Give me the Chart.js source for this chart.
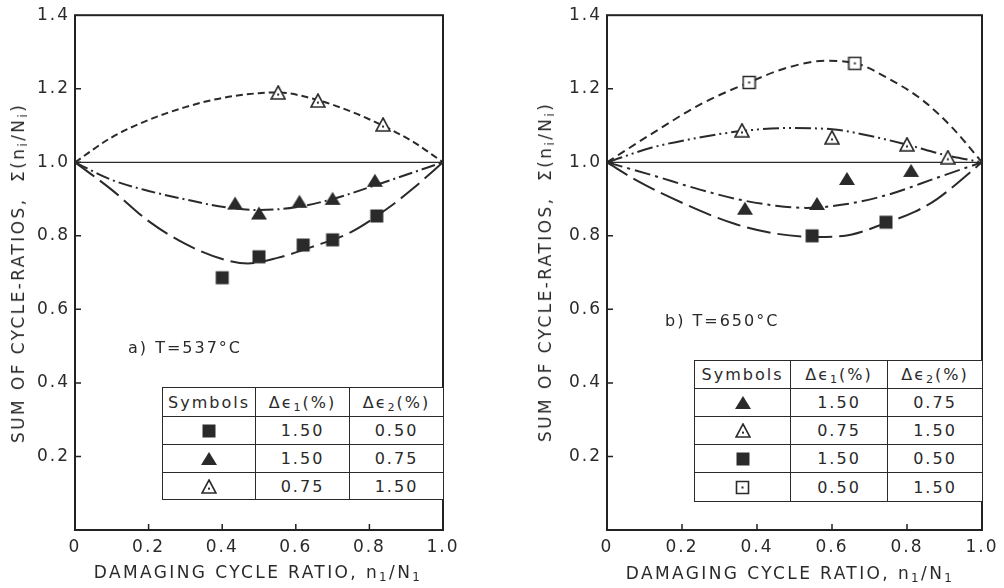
<!DOCTYPE html>
<html>
<head>
<meta charset="utf-8">
<script src="https://cdn.jsdelivr.net/npm/chart.js@4.4.1/dist/chart.umd.min.js"></script>
<style>
  body { margin: 0; background: #fff; }
  #wrap { position: relative; width: 1004px; height: 588px; overflow: hidden;
          font-family: "DejaVu Sans", sans-serif; color: #2a2a2a; }
  canvas.plot { position: absolute; top: 0; }
  .xt { position: absolute; font-size: 17px; letter-spacing: 2.4px; white-space: nowrap;
        transform: translate(-50%, -50%); }
  .yt { position: absolute; font-size: 17px; letter-spacing: 2.4px; white-space: nowrap;
        transform: translate(-50%, -50%) rotate(-90deg); }
  .note { position: absolute; font-size: 16px; letter-spacing: 2px; white-space: nowrap;
          transform: translateY(-50%); }
  table.key { position: absolute; border-collapse: collapse; table-layout: fixed;
              font-size: 16px; letter-spacing: 2px; background: #fff; }
  table.key td { border: 1.5px solid #2a2a2a; text-align: center; padding: 0; }
  table.key canvas { display: block; margin: 0 auto; }
  sub { font-size: 70%; vertical-align: -0.25em; line-height: 0; }
</style>
</head>
<body>
<div id="wrap">
  <canvas id="cA" class="plot" width="470" height="588" style="left:0px"></canvas>
  <canvas id="cB" class="plot" width="484" height="588" style="left:520px"></canvas>

  <div class="yt" style="left:18px; top:273px">SUM OF CYCLE-RATIOS,&nbsp;&nbsp;Σ(n<sub>i</sub>/N<sub>i</sub>)</div>
  <div class="xt" style="left:258px; top:572px">DAMAGING CYCLE RATIO, n<sub>1</sub>/N<sub>1</sub></div>
  <div class="note" style="left:128px; top:347px">a) T=537°C</div>

  <div class="yt" style="left:545px; top:272px">SUM OF CYCLE-RATIOS,&nbsp;&nbsp;Σ(n<sub>i</sub>/N<sub>i</sub>)</div>
  <div class="xt" style="left:790px; top:573px">DAMAGING CYCLE RATIO, n<sub>1</sub>/N<sub>1</sub></div>
  <div class="note" style="left:665px; top:320px">b) T=650°C</div>
</div>

<script>
// tick labels
const xTickLabels = ['0', '0.2', '0.4', '0.6', '0.8', '1.0'];
const yTickLabels = ['', '0.2', '0.4', '0.6', '0.8', '1.0', '1.2', '1.4'];

// Miner line, sum = 1
const minerX = [0, 1];
const minerY = [1, 1];

// ---- a) T = 537 C ----
// filled squares (1.50 / 0.50)
const aSqX = [0.40, 0.50, 0.62, 0.70, 0.82];
const aSqY = [0.686, 0.743, 0.775, 0.789, 0.854];
// filled triangles (1.50 / 0.75)
const aTriX = [0.435, 0.50, 0.61, 0.70, 0.815];
const aTriY = [0.889, 0.862, 0.894, 0.902, 0.951];
// open triangles (0.75 / 1.50)
const aTriOX = [0.552, 0.66, 0.837];
const aTriOY = [1.19, 1.168, 1.103];
// fitted curves
const aSqFitX = [0, 0.1, 0.2, 0.3, 0.4, 0.47, 0.55, 0.65, 0.75, 0.85, 0.92, 1];
const aSqFitY = [1, 0.925, 0.84, 0.778, 0.737, 0.725, 0.74, 0.772, 0.81, 0.875, 0.93, 1];
const aTriFitX = [0, 0.1, 0.2, 0.3, 0.4, 0.5, 0.6, 0.7, 0.8, 0.9, 1];
const aTriFitY = [1, 0.952, 0.922, 0.899, 0.879, 0.87, 0.878, 0.9, 0.932, 0.966, 1];
const aTriOFitX = [0, 0.1, 0.2, 0.3, 0.4, 0.5, 0.55, 0.65, 0.75, 0.84, 0.92, 1];
const aTriOFitY = [1, 1.068, 1.115, 1.15, 1.175, 1.188, 1.19, 1.172, 1.138, 1.098, 1.055, 1];

// ---- b) T = 650 C ----
const bTriX = [0.368, 0.56, 0.64, 0.811];
const bTriY = [0.875, 0.888, 0.956, 0.978];
const bTriOX = [0.36, 0.60, 0.80, 0.909];
const bTriOY = [1.087, 1.068, 1.049, 1.014];
const bSqX = [0.547, 0.744];
const bSqY = [0.80, 0.837];
const bSqOX = [0.379, 0.661];
const bSqOY = [1.217, 1.269];
const bSqOFitX = [0, 0.12, 0.25, 0.38, 0.48, 0.58, 0.66, 0.75, 0.84, 0.92, 1];
const bSqOFitY = [1, 1.078, 1.158, 1.218, 1.257, 1.276, 1.27, 1.228, 1.17, 1.095, 1];
const bTriOFitX = [0, 0.12, 0.25, 0.36, 0.48, 0.6, 0.7, 0.8, 0.9, 1];
const bTriOFitY = [1, 1.04, 1.068, 1.085, 1.093, 1.09, 1.072, 1.048, 1.02, 1];
const bTriFitX = [0, 0.12, 0.25, 0.355, 0.45, 0.53, 0.63, 0.75, 0.88, 1];
const bTriFitY = [1, 0.965, 0.925, 0.898, 0.882, 0.876, 0.885, 0.912, 0.958, 1];
const bSqFitX = [0, 0.08, 0.2, 0.336, 0.45, 0.56, 0.65, 0.744, 0.82, 0.88, 1];
const bSqFitY = [1, 0.95, 0.89, 0.834, 0.806, 0.797, 0.803, 0.835, 0.865, 0.9, 1];

// symbol tables
const aTable = [['sq', '1.50', '0.50'], ['tri', '1.50', '0.75'], ['triO', '0.75', '1.50']];
const bTable = [['tri', '1.50', '0.75'], ['triO', '0.75', '1.50'], ['sq', '1.50', '0.50'], ['sqO', '0.50', '1.50']];

const INK = '#2a2a2a';

// little marker images, reused for the points and the table
function marker(kind, w, h) {
  const c = document.createElement('canvas');
  c.width = w; c.height = h;
  const g = c.getContext('2d');
  const m = w / 2;
  g.lineWidth = 1.6;
  g.strokeStyle = INK;
  g.fillStyle = INK;
  g.beginPath();
  if (kind === 'sq' || kind === 'sqO') {
    g.rect(1.5, 1.5, w - 3, h - 3);
  } else {
    g.moveTo(m, 1);
    g.lineTo(w - 1, h - 1);
    g.lineTo(1, h - 1);
    g.closePath();
  }
  if (kind === 'sq' || kind === 'tri') {
    g.fill();
  } else {
    g.fillStyle = '#fff';
    g.fill();
    g.stroke();
    g.fillStyle = INK;
    const dy = kind === 'triO' ? h * 0.64 : h / 2;
    g.fillRect(m - 1, dy - 1, 2, 2);
  }
  return c;
}

const imgs = {
  sq: marker('sq', 16, 16),
  tri: marker('tri', 18, 15),
  triO: marker('triO', 16, 15),
  sqO: marker('sqO', 15, 15)
};

function pts(xs, ys) { return xs.map((x, i) => ({ x: x, y: ys[i] })); }

function curve(xs, ys, dash) {
  return {
    data: pts(xs, ys), showLine: true, borderColor: INK, borderWidth: 2,
    borderDash: dash, pointRadius: 0, cubicInterpolationMode: 'monotone', order: 2
  };
}
function marks(xs, ys, img) {
  return { data: pts(xs, ys), showLine: false, pointStyle: img, pointRadius: 9, order: 1 };
}

const frame = {
  id: 'frame',
  beforeDraw(chart) { chart.ctx.letterSpacing = '2px'; },
  beforeDatasetsDraw(chart) {
    const { ctx, chartArea: a, scales } = chart;
    ctx.save();
    ctx.strokeStyle = '#222';
    ctx.lineWidth = 2;
    ctx.strokeRect(a.left, a.top, a.right - a.left, a.bottom - a.top);
    ctx.lineWidth = 1.5;
    ctx.beginPath();
    scales.x.ticks.forEach(t => {
      if (t.value > 0.01 && t.value < 0.99) {
        const p = scales.x.getPixelForValue(t.value);
        ctx.moveTo(p, a.bottom); ctx.lineTo(p, a.bottom - 6);
      }
    });
    scales.y.ticks.forEach(t => {
      if (t.value > 0.01 && t.value < 1.39) {
        const p = scales.y.getPixelForValue(t.value);
        ctx.moveTo(a.left, p); ctx.lineTo(a.left + 6, p);
      }
    });
    ctx.stroke();
    ctx.restore();
  }
};

function makeChart(id, rightPad, yWidth, datasets) {
  const tickFont = { family: 'DejaVu Sans', size: 17 };
  return new Chart(document.getElementById(id), {
    type: 'scatter',
    data: { datasets: datasets },
    options: {
      responsive: false,
      animation: false,
      layout: { padding: { top: 13, right: rightPad, left: 0, bottom: 0 } },
      plugins: { legend: { display: false }, tooltip: { enabled: false } },
      scales: {
        x: {
          type: 'linear', min: 0, max: 1,
          afterFit: s => { s.height = 58; },
          grid: { display: false, drawTicks: false },
          border: { display: false },
          ticks: { stepSize: 0.2, padding: 7, autoSkip: false, maxRotation: 0, color: '#2a2a2a',
                   font: tickFont, callback: (v, i) => xTickLabels[i] }
        },
        y: {
          type: 'linear', min: 0, max: 1.4,
          afterFit: s => { s.width = yWidth; },
          grid: { display: false, drawTicks: false },
          border: { display: false },
          ticks: { stepSize: 0.2, padding: 5, autoSkip: false, color: '#2a2a2a',
                   font: tickFont, callback: (v, i) => yTickLabels[i] }
        }
      }
    },
    plugins: [frame]
  });
}

const minerLine = () => ({ data: pts(minerX, minerY), showLine: true, borderColor: INK,
                           borderWidth: 1.3, pointRadius: 0, order: 3 });

makeChart('cA', 27, 75, [
  marks(aSqX, aSqY, imgs.sq),
  marks(aTriX, aTriY, imgs.tri),
  marks(aTriOX, aTriOY, imgs.triO),
  curve(aSqFitX, aSqFitY, [24, 7]),
  curve(aTriFitX, aTriFitY, [14, 4, 2, 4]),
  curve(aTriOFitX, aTriOFitY, [7, 4]),
  minerLine()
]);

makeChart('cB', 22, 87, [
  marks(bTriX, bTriY, imgs.tri),
  marks(bTriOX, bTriOY, imgs.triO),
  marks(bSqX, bSqY, imgs.sq),
  marks(bSqOX, bSqOY, imgs.sqO),
  curve(bSqOFitX, bSqOFitY, [8, 5]),
  curve(bTriOFitX, bTriOFitY, [16, 4, 2, 4, 2, 4]),
  curve(bTriFitX, bTriFitY, [16, 5, 3, 5]),
  curve(bSqFitX, bSqFitY, [24, 7]),
  minerLine()
]);

function buildTable(rows, left, top, colW, rowH) {
  const t = document.createElement('table');
  t.className = 'key';
  t.style.left = left + 'px';
  t.style.top = top + 'px';
  t.style.width = colW.reduce((s, w) => s + w, 0) + 'px';
  const cg = document.createElement('colgroup');
  colW.forEach(w => { const c = document.createElement('col'); c.style.width = w + 'px'; cg.appendChild(c); });
  t.appendChild(cg);
  const head = document.createElement('tr');
  head.style.height = rowH[0] + 'px';
  head.innerHTML = '<td>Symbols</td><td>Δϵ<sub>1</sub>(%)</td><td>Δϵ<sub>2</sub>(%)</td>';
  t.appendChild(head);
  rows.forEach((r, i) => {
    const tr = document.createElement('tr');
    tr.style.height = rowH[i + 1] + 'px';
    const td0 = document.createElement('td');
    const src = imgs[r[0]];
    const cv = document.createElement('canvas');
    cv.width = src.width; cv.height = src.height;
    cv.getContext('2d').drawImage(src, 0, 0);
    td0.appendChild(cv);
    tr.appendChild(td0);
    [r[1], r[2]].forEach(v => { const td = document.createElement('td'); td.textContent = v; tr.appendChild(td); });
    t.appendChild(tr);
  });
  document.getElementById('wrap').appendChild(t);
}

buildTable(aTable, 162, 387, [93, 94, 94], [29, 28, 28, 27]);
buildTable(bTable, 694, 360, [96, 97, 95], [28, 28, 28, 28, 29]);
</script>
</body>
</html>
